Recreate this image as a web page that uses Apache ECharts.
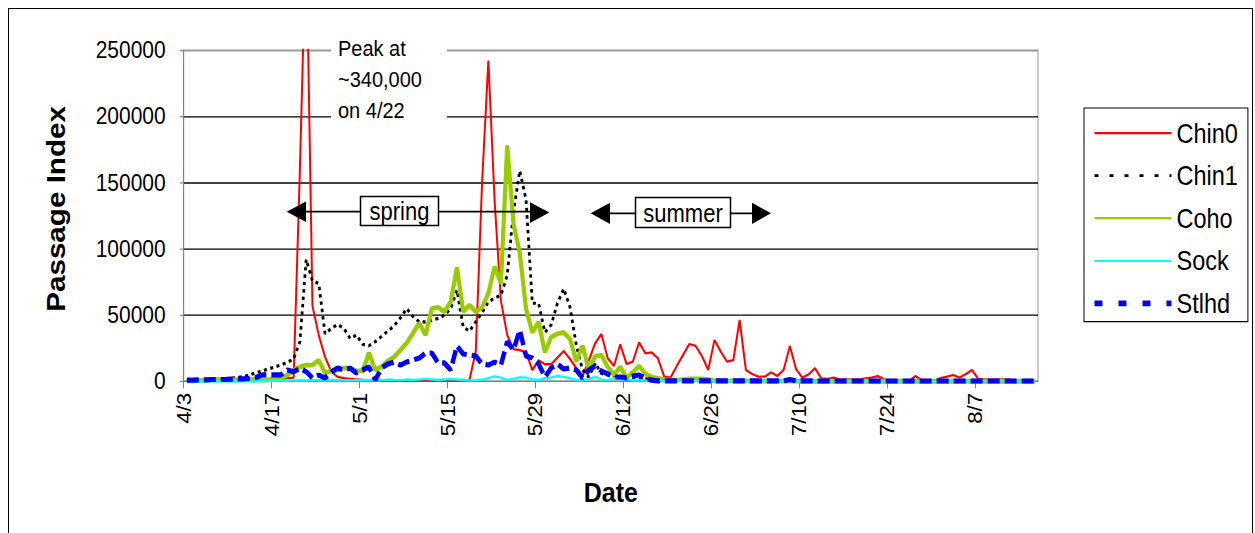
<!DOCTYPE html>
<html><head><meta charset="utf-8">
<script src="https://cdn.jsdelivr.net/npm/echarts@6/dist/echarts.min.js"></script>
<style>
html,body{margin:0;padding:0;background:#fff;overflow:hidden}
#wrap{width:1255px;height:533px;overflow:hidden}
#c{width:1255px;transform-origin:0 0}
</style>
</head><body><div id="wrap"><div id="c"></div></div>
<script>
// Daily passage index, one value per day starting 4/3 (136 days, through 8/16)
const tickLabels = ['4/3','4/17','5/1','5/15','5/29','6/12','6/26','7/10','7/24','8/7'];
const yTickValues = [0, 50000, 100000, 150000, 200000, 250000];
const seriesNames = ['Chin0','Chin1','Coho','Sock','Stlhd'];

const chin0 = [
 1000,800,800,1000,1000,1200,1000,1200,1500,1200,
 1500,1500,1800,1500,2000,2000,2500,3000,160000,340000,
 57000,35000,18500,7500,3500,2500,2000,1500,1200,1000,
 800,600,800,600,700,500,800,600,700,500,
 600,800,600,700,900,1200,23000,150000,242000,136000,
 61000,35000,24500,23700,22000,8700,16000,13000,13000,18000,
 23000,17000,10000,4000,16000,28800,35800,17500,11700,28000,
 13200,15000,29500,21300,22000,17500,3600,2900,11700,20000,
 28300,26800,19200,8700,31300,22500,15000,16200,46400,8700,
 5700,3600,3600,6900,4100,8700,26800,9200,2900,5400,
 10000,2400,1900,2900,1500,1500,1500,1500,2400,2900,
 4100,1600,500,500,500,500,4100,1000,500,500,
 2500,3600,4900,2900,5700,8700,1900,1500,1500,1500,
 1500,1500,0,0,0,0
];
const chin1 = [
 500,500,800,1000,1200,1500,2000,2500,3000,3600,
 5000,6500,8000,9500,11000,12500,14500,17000,30000,92000,
 76000,74000,36000,40000,43000,40000,32500,35000,28000,27000,
 30000,34000,38000,42000,48000,55000,49000,45000,45000,46000,
 47600,50000,55000,69000,41000,38000,45000,52000,60000,63000,
 65000,80000,128000,159000,137000,59000,59000,37000,42600,59000,
 70000,56000,27500,8700,3400,14000,6000,5000,4000,3000,
 3000,2500,2000,2000,1500,1500,1000,1000,800,800,
 800,800,600,600,600,500,500,500,500,500,
 500,500,400,400,400,400,400,400,400,400,
 300,300,300,300,300,300,300,300,300,300,
 300,300,300,300,300,300,300,300,300,300,
 300,300,300,300,300,300,300,300,300,300,
 300,300,300,300,300,300
];
const coho = [
 500,500,800,1000,1500,1500,1500,1200,1200,1500,
 1500,1500,1000,1500,2000,2500,5000,8500,11000,12400,
 12400,16000,6400,8000,8700,10000,10000,8000,8000,21500,
 8700,11200,15500,18500,23700,29000,36500,44000,35000,55000,
 56000,52600,60000,86000,52600,57600,52600,56000,66500,86600,
 74000,178000,119000,97000,55000,37000,45000,22000,33500,36000,
 37000,32000,15000,27000,8700,19000,20000,11000,5000,11000,
 2600,7000,11700,5700,3400,2400,1500,1000,1000,1500,
 2000,2000,2000,1500,500,500,500,400,400,400,
 300,300,300,300,300,300,300,300,300,300,
 200,200,200,200,200,200,200,200,200,200,
 200,200,200,200,200,200,200,200,200,200,
 200,200,200,200,200,200,200,200,200,200,
 200,200,200,200,200,200
];
const sock = [
 0,0,0,0,0,0,0,0,0,0,
 0,0,300,500,500,800,500,800,1000,800,
 1200,1000,800,1000,1200,1000,800,1000,1200,1000,
 800,1000,1500,1200,1000,1500,1200,1500,2000,1500,
 1200,1500,1800,1500,1200,800,1000,1500,2500,3800,
 3000,1200,2000,3200,3000,1500,1200,2500,3000,4200,
 3500,2500,1200,800,2000,3500,1500,1000,2500,1500,
 1500,1000,1200,800,500,300,300,300,300,300,
 200,200,200,200,200,200,200,200,200,200,
 200,200,200,200,200,200,200,200,200,200,
 100,100,100,100,100,100,100,100,100,100,
 100,100,100,100,100,100,100,100,100,100,
 100,100,100,100,100,100,100,100,100,100,
 100,100,100,100,100,100
];
const stlhd = [
 1000,1000,1200,1200,1500,1500,1500,1800,2000,2000,
 2500,3000,5000,5000,5000,5000,8700,7400,10000,7400,
 2600,4900,2600,7200,10200,8700,10000,6400,8700,11000,
 1100,10200,13200,14700,12400,14700,16200,17700,21500,21500,
 14000,14000,8700,26800,20700,20000,19200,13200,12400,14700,
 12400,30000,23700,38800,19200,17700,13200,3400,10200,13200,
 9400,10200,8700,2600,8700,11700,7900,5700,3400,3400,
 2600,4100,4900,2600,1000,500,500,500,500,500,
 500,500,500,500,500,500,500,500,500,500,
 500,500,500,500,500,500,1500,500,500,500,
 400,400,400,400,400,400,400,400,400,400,
 400,400,400,400,400,400,400,400,400,400,
 400,400,400,400,400,400,400,400,400,400,
 400,400,400,400,400,400
];

const FONT = '"Liberation Sans", Arial, sans-serif';
// The original picture is stretched vertically; draw at reduced height and stretch back.
const S = 1.14;
const H = 533 / S;
const Y = v => v / S;
const el = document.getElementById('c');
el.style.height = H + 'px';
el.style.transform = 'scaleY(' + S + ')';

const toPts = arr => arr.map((v, i) => [i + 0.5, v]);

const chart = echarts.init(el, null, {renderer: 'svg', width: 1255, height: H});
chart.setOption({
  animation: false,
  backgroundColor: '#fff',
  grid: {left: 183.7, top: Y(50), right: 217, bottom: H - Y(381.5), show: true,
         borderColor: '#999', borderWidth: 1, backgroundColor: 'transparent'},
  xAxis: {
    type: 'value', min: 0, max: 136, interval: 14,
    name: 'Date', nameLocation: 'middle', nameGap: 85,
    nameTextStyle: {fontFamily: FONT, fontWeight: 'bold', fontSize: 25, color: '#000', verticalAlign: 'top'},
    axisLine: {show: true, onZero: false, lineStyle: {color: '#808080', width: 1}},
    axisTick: {show: true, length: 6, lineStyle: {color: '#808080'}},
    axisLabel: {rotate: 90, margin: 10, fontFamily: FONT, fontSize: 19.5, color: '#000', showMaxLabel: false,
      formatter: v => (v % 14 === 0 && tickLabels[v / 14]) ? tickLabels[v / 14] : ''},
    splitLine: {show: false}
  },
  yAxis: {
    type: 'value', min: 0, max: 250000, interval: 50000,
    name: 'Passage Index', nameLocation: 'middle', nameGap: 115,
    nameTextStyle: {fontFamily: FONT, fontWeight: 'bold', fontSize: 26, color: '#000', padding: [0, 0, 0, 12]},
    axisLine: {show: true, lineStyle: {color: '#808080', width: 1}},
    axisTick: {show: true, length: 4, lineStyle: {color: '#808080'}},
    axisLabel: {margin: 18, fontFamily: FONT, fontSize: 21, color: '#000',
      formatter: v => yTickValues.includes(v) ? String(v) : ''},
    splitLine: {show: true, lineStyle: {color: ['#000','#000','#000','#000','#000','#999'], width: 1.15}}
  },
  legend: {
    orient: 'vertical', left: 1084, top: Y(108),
    padding: [10, 10, 4, 8],
    borderColor: '#000', borderWidth: 1, backgroundColor: '#fff',
    itemWidth: 77, itemHeight: 22, itemGap: 42 / S - 23.5,
    itemStyle: {opacity: 0},
    textStyle: {fontFamily: FONT, fontSize: 23.5, color: '#000', lineHeight: 22},
    data: [
      {name: 'Chin0'},
      {name: 'Chin1', lineStyle: {type: [4, 11], width: 2.5}},
      {name: 'Coho'},
      {name: 'Sock'},
      {name: 'Stlhd', lineStyle: {type: [8, 16], width: 5}}
    ]
  },
  series: [
    {name: 'Chin0', type: 'line', data: toPts(chin0), symbol: 'none', showSymbol: false,
     lineStyle: {color: '#FF0000', width: 2}, itemStyle: {color: '#FF0000'}},
    {name: 'Chin1', type: 'line', data: toPts(chin1), symbol: 'none', showSymbol: false,
     lineStyle: {color: '#000', width: 2.8, type: [3, 3.5]}, itemStyle: {color: '#000'}},
    {name: 'Coho', type: 'line', data: toPts(coho), symbol: 'none', showSymbol: false,
     lineStyle: {color: '#99CC00', width: 4.2}, itemStyle: {color: '#99CC00'}},
    {name: 'Sock', type: 'line', data: toPts(sock), symbol: 'none', showSymbol: false,
     lineStyle: {color: '#00FFFF', width: 2}, itemStyle: {color: '#00FFFF'}},
    {name: 'Stlhd', type: 'line', data: toPts(stlhd), symbol: 'none', showSymbol: false,
     lineStyle: {color: '#0000FF', width: 4.5, type: [12, 5]}, itemStyle: {color: '#0000FF'}}
  ],
  graphic: [
    {type: 'rect', z: 200, silent: true, shape: {x: 8.5, y: Y(8.5), width: 1244, height: 600},
     style: {fill: 'none', stroke: '#000', lineWidth: 1}},
    {type: 'rect', z: 100, silent: true, shape: {x: 331, y: Y(30), width: 116, height: Y(92)},
     style: {fill: '#fff'}},
    {type: 'text', z: 101, silent: true, x: 338, y: Y(33),
     style: {text: 'Peak at\n~340,000\non 4/22', font: '20px ' + FONT, fill: '#000', lineHeight: 31 / S}},
    // spring arrow
    {type: 'line', z: 100, silent: true, shape: {x1: 300, y1: Y(211.7), x2: 536, y2: Y(211.7)}, style: {stroke: '#000', lineWidth: 1.5}},
    {type: 'polygon', z: 100, silent: true, shape: {points: [[286.7, Y(211.7)], [306, Y(201.5)], [306, Y(222)]]}, style: {fill: '#000'}},
    {type: 'polygon', z: 100, silent: true, shape: {points: [[549.3, Y(212.5)], [530, Y(202.3)], [530, Y(223)]]}, style: {fill: '#000'}},
    {type: 'rect', z: 101, silent: true, shape: {x: 360.5, y: Y(196.5), width: 78, height: Y(29)}, style: {fill: '#fff', stroke: '#000', lineWidth: 1.5}},
    {type: 'text', z: 102, silent: true, x: 399.5, y: Y(211.5),
     style: {text: 'spring', font: '22px ' + FONT, fill: '#000', align: 'center', verticalAlign: 'middle'}},
    // summer arrow
    {type: 'line', z: 100, silent: true, shape: {x1: 600, y1: Y(213.3), x2: 760, y2: Y(213.3)}, style: {stroke: '#000', lineWidth: 1.5}},
    {type: 'polygon', z: 100, silent: true, shape: {points: [[590.7, Y(213.3)], [610, Y(202.7)], [610, Y(224)]]}, style: {fill: '#000'}},
    {type: 'polygon', z: 100, silent: true, shape: {points: [[771, Y(213.3)], [752, Y(202.7)], [752, Y(224)]]}, style: {fill: '#000'}},
    {type: 'rect', z: 101, silent: true, shape: {x: 635.5, y: Y(197.5), width: 95, height: Y(30)}, style: {fill: '#fff', stroke: '#000', lineWidth: 1.5}},
    {type: 'text', z: 102, silent: true, x: 683, y: Y(213),
     style: {text: 'summer', font: '22px ' + FONT, fill: '#000', align: 'center', verticalAlign: 'middle'}}
  ]
});
</script>
</body></html>
